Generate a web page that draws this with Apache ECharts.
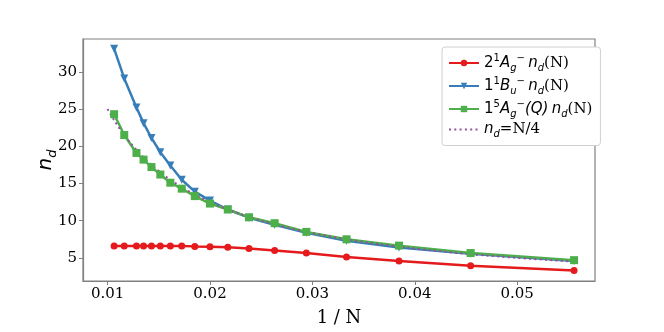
<!DOCTYPE html>
<html>
<head>
<meta charset="utf-8">
<title>n_d vs 1/N</title>
<script src="https://cdn.jsdelivr.net/npm/echarts@6/dist/echarts.min.js"></script>
<style>
  html, body { margin: 0; padding: 0; background: #fff; }
  #main { width: 664px; height: 332px; }
</style>
</head>
<body>
<div id="main"></div>
<script>
// system sizes N (x = 1/N)
var sizes = [94, 86, 78, 74, 70, 66, 62, 58, 54, 50, 46, 42, 38, 34, 30, 26, 22, 18];
// n_d
var redVals   = [6.6, 6.6, 6.6, 6.6, 6.6, 6.6, 6.6, 6.6, 6.55, 6.5, 6.42, 6.28, 6.0, 5.65, 5.13, 4.57, 3.95, 3.32];
var blueVals  = [33.1, 29.1, 25.2, 23.1, 21.1, 19.2, 17.4, 15.5, 13.9, 12.7, 11.5, 10.4, 9.45, 8.37, 7.3, 6.4, 5.56, 4.57];
var greenVals = [24.3, 21.5, 19.1, 18.2, 17.2, 16.2, 15.1, 14.3, 13.3, 12.3, 11.5, 10.45, 9.66, 8.5, 7.5, 6.65, 5.65, 4.7];
// guide line n_d = N/4
var guideSizes = [100, 94, 88, 82, 76, 70, 64, 58, 52, 46, 40, 34, 28, 22, 18];
var guideVals  = [25, 23.5, 22, 20.5, 19, 17.5, 16, 14.5, 13, 11.5, 10, 8.5, 7, 5.5, 4.5];

var xTicks = [0.01, 0.02, 0.03, 0.04, 0.05];
var yTicks = [5, 10, 15, 20, 25, 30];

function pairs(ns, vals) {
    return ns.map(function (n, i) { return [1 / n, vals[i]]; });
}

var serif = 'DejaVu Serif';
var sans = 'DejaVu Sans';
var gray = '#808080';

var richLegend = {
    t:   {fontFamily: sans, fontSize: 15, color: '#000', verticalAlign: 'middle', lineHeight: 20},
    s:   {fontFamily: serif, fontSize: 15, color: '#000', verticalAlign: 'middle', lineHeight: 20},
    it:  {fontFamily: sans, fontStyle: 'italic', fontSize: 15, color: '#000', verticalAlign: 'middle', lineHeight: 20},
    sup: {fontFamily: sans, fontSize: 10, color: '#000', verticalAlign: 'top', lineHeight: 20},
    sub: {fontFamily: sans, fontStyle: 'italic', fontSize: 10, color: '#000', verticalAlign: 'bottom', lineHeight: 20}
};

var legendText = {
    red:   '{t|2}{sup|1}{it|A}{sub|g}{sup|−} {it|n}{sub|d}{s|(N)}',
    blue:  '{t|1}{sup|1}{it|B}{sub|u}{sup|−} {it|n}{sub|d}{s|(N)}',
    green: '{t|1}{sup|5}{it|A}{sub|g}{sup|−}{it|(Q)} {it|n}{sub|d}{s|(N)}',
    guide: '{it|n}{sub|d}{s|=N/4}'
};

var chart = echarts.init(document.getElementById('main'));
chart.setOption({
    backgroundColor: '#fff',
    animation: false,
    grid: {left: 83, right: 69, top: 39, bottom: 42, show: true, borderColor: gray, borderWidth: 1.2},
    legend: {
        left: 442, top: 47,
        orient: 'vertical',
        itemWidth: 30, itemHeight: 8, itemGap: 3,
        padding: [6, 8, 6, 6],
        backgroundColor: '#fff',
        borderColor: '#d0d0d0', borderWidth: 1, borderRadius: 3,
        data: ['red', 'blue', 'green', {name: 'guide', itemStyle: {opacity: 0}}],
        formatter: function (name) { return legendText[name]; },
        textStyle: {rich: richLegend}
    },
    xAxis: {
        type: 'value',
        min: 0.0076, max: 0.0576,
        name: '1 / N', nameLocation: 'middle', nameGap: 28, nameMoveOverlap: false,
        nameTextStyle: {fontFamily: serif, fontSize: 18, color: '#000'},
        splitLine: {show: false},
        axisLine: {show: true, lineStyle: {color: gray, width: 1.2}},
        axisTick: {show: true, length: 4, lineStyle: {color: gray}, customValues: xTicks},
        axisLabel: {fontFamily: serif, fontSize: 15, color: '#000', margin: 6, customValues: xTicks,
            formatter: function (v) { return v.toFixed(2); }}
    },
    yAxis: {
        type: 'value',
        min: 1.9, max: 34.4,
        name: '{it|n}{sub|d}', nameLocation: 'middle', nameGap: 24, nameRotate: 90, nameMoveOverlap: false,
        nameTextStyle: {rich: {
            it: {fontFamily: sans, fontStyle: 'italic', fontSize: 20, color: '#000', verticalAlign: 'middle', lineHeight: 26},
            sub: {fontFamily: sans, fontStyle: 'italic', fontSize: 13, color: '#000', verticalAlign: 'bottom', lineHeight: 26}
        }},
        splitLine: {show: false},
        axisLine: {show: true, lineStyle: {color: gray, width: 1.2}},
        axisTick: {show: true, length: 4, lineStyle: {color: gray}, customValues: yTicks},
        axisLabel: {fontFamily: serif, fontSize: 15, color: '#000', margin: 6, customValues: yTicks}
    },
    series: [
        {
            name: 'red', type: 'line', data: pairs(sizes, redVals),
            symbol: 'circle', symbolSize: 7,
            itemStyle: {color: '#e41a1c'},
            lineStyle: {color: '#e41a1c', width: 2.5}
        },
        {
            name: 'blue', type: 'line', data: pairs(sizes, blueVals),
            symbol: 'triangle', symbolRotate: 180, symbolSize: 8,
            itemStyle: {color: '#377eb8'},
            lineStyle: {color: '#377eb8', width: 2.5}
        },
        {
            name: 'green', type: 'line', data: pairs(sizes, greenVals),
            symbol: 'rect', symbolSize: 8,
            itemStyle: {color: '#4daf4a'},
            lineStyle: {color: '#4daf4a', width: 2.5}
        },
        {
            name: 'guide', type: 'line', data: pairs(guideSizes, guideVals),
            symbol: 'none', smooth: 0.3,
            itemStyle: {color: '#984ea3'},
            lineStyle: {color: '#984ea3', width: 2, type: [2, 3.3]}
        }
    ]
});
</script>
</body>
</html>
